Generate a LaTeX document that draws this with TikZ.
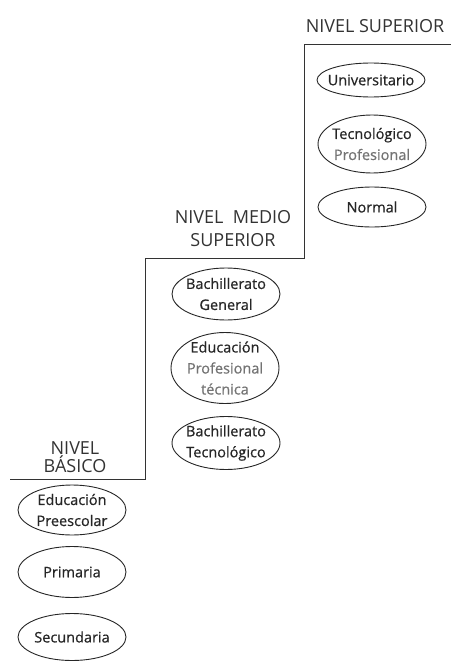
\documentclass[tikz,border=0pt]{standalone}
\usepackage{fontspec}
\setmainfont{Open Sans}
\usetikzlibrary{shapes.geometric}

\tikzset{
  nivel/.style={font=\fontsize{18}{23}\selectfont, text=black!80, align=center, inner sep=0pt},
  opcion/.style={ellipse, draw=black!85, line width=0.9pt, inner sep=0pt, minimum width=108pt},
  texto/.style={text=black!85, align=center, inner sep=0pt,
    font=\fontsize{14.5}{21}\selectfont\addfontfeature{FakeBold=0.7}},
  escalon/.style={black!80, line width=1pt},
}

\begin{document}
\begin{tikzpicture}[x=1pt,y=-1pt]
  \useasboundingbox (0,0) rectangle (451,661);

  % The staircase
  \coordinate (s0) at (10,479);
  \coordinate (s1) at (145,479);
  \coordinate (s2) at (145,258);
  \coordinate (s3) at (304,258);
  \coordinate (s4) at (304,45);
  \coordinate (s5) at (451,45);
  \draw [escalon] (s0) -- (s1) -- (s2) -- (s3) -- (s4) -- (s5);

  % Level titles
  \node [nivel] (superior) at (375,26) {NIVEL SUPERIOR};
  \node [nivel] (medio) at (233,229) {NIVEL\ \ MEDIO\\SUPERIOR};
  \node [nivel, font=\fontsize{18}{16}\selectfont] (basico) at (75,457) {NIVEL\\BÁSICO};

  % Higher level
  \node [opcion, minimum height=34pt] (uni) at (371,80) {};
  \node [texto] (uni-t) at (uni) {Universitario};
  \node [opcion, minimum height=58pt] (tecpro) at (372,144) {};
  \node [texto] (tecpro-t) at (tecpro) {Tecnológico\\{\color{black!55}Profesional}};
  \node [opcion, minimum height=40pt] (normal) at (372,207) {};
  \node [texto] (normal-t) at (normal) {Normal};

  % Upper middle level
  \node [opcion, minimum height=52pt] (bachgen) at (226,294) {};
  \node [texto] (bachgen-t) at (bachgen) {Bachillerato\\General};
  \node [opcion, minimum height=71pt] (edupro) at (225,368) {};
  \node [texto] (edupro-t) at (edupro) {Educación\\{\color{black!55}Profesional}\\{\color{black!55}técnica}};
  \node [opcion, minimum height=53pt] (bachtec) at (226,443) {};
  \node [texto] (bachtec-t) at (bachtec) {Bachillerato\\Tecnológico};

  % Basic level
  \node [opcion, minimum height=50pt] (preesc) at (72,510) {};
  \node [texto] (preesc-t) at (preesc) {Educación\\Preescolar};
  \node [opcion, minimum height=51pt] (prim) at (72,572) {};
  \node [texto] (prim-t) at (prim) {Primaria};
  \node [opcion, minimum height=47pt] (secun) at (72,637) {};
  \node [texto] (secun-t) at (secun) {Secundaria};
\end{tikzpicture}
\end{document}
